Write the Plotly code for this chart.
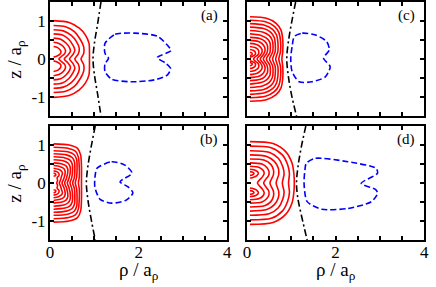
import plotly.graph_objects as go

# ---------------- data ----------------
# Red contours: upper half (rho, z) of each curve; the lower half mirrors it.
red_a = [
    [(0.08, 1.01), (0.43, 0.96), (0.66, 0.81), (0.80, 0.63), (0.88, 0.41), (0.89, 0.20), (0.89, 0.0)],
    [(0.08, 0.88), (0.35, 0.85), (0.55, 0.72), (0.68, 0.52), (0.76, 0.32), (0.76, 0.15), (0.70, 0.0)],
    [(0.08, 0.77), (0.30, 0.74), (0.48, 0.62), (0.60, 0.45), (0.66, 0.28), (0.64, 0.14), (0.56, 0.0)],
    [(0.08, 0.66), (0.28, 0.63), (0.42, 0.52), (0.52, 0.36), (0.56, 0.24), (0.52, 0.12), (0.44, 0.0)],
    [(0.08, 0.55), (0.24, 0.52), (0.36, 0.42), (0.44, 0.30), (0.46, 0.20), (0.40, 0.10), (0.32, 0.0)],
    [(0.08, 0.44), (0.20, 0.41), (0.30, 0.33), (0.35, 0.22), (0.33, 0.14), (0.25, 0.06), (0.20, 0.0)],
    [(0.08, 0.33), (0.17, 0.30), (0.24, 0.22), (0.24, 0.15), (0.16, 0.08), (0.08, 0.05)],
]
red_b = [
    [(0.08, 1.03), (0.43, 1.00), (0.62, 0.91), (0.69, 0.74), (0.71, 0.43), (0.71, 0.0)],
    [(0.08, 0.94), (0.42, 0.91), (0.58, 0.83), (0.64, 0.68), (0.66, 0.40), (0.66, 0.15), (0.64, 0.0)],
    [(0.08, 0.85), (0.40, 0.82), (0.54, 0.75), (0.60, 0.62), (0.61, 0.40), (0.60, 0.15), (0.57, 0.0)],
    [(0.08, 0.77), (0.37, 0.74), (0.50, 0.67), (0.55, 0.56), (0.56, 0.38), (0.55, 0.15), (0.51, 0.0)],
    [(0.08, 0.69), (0.34, 0.66), (0.45, 0.60), (0.50, 0.50), (0.51, 0.35), (0.49, 0.14), (0.45, 0.0)],
    [(0.08, 0.61), (0.31, 0.58), (0.41, 0.52), (0.45, 0.44), (0.46, 0.32), (0.43, 0.13), (0.39, 0.0)],
    [(0.08, 0.53), (0.27, 0.50), (0.36, 0.45), (0.40, 0.37), (0.40, 0.28), (0.37, 0.12), (0.33, 0.0)],
    [(0.08, 0.46), (0.23, 0.43), (0.31, 0.38), (0.34, 0.31), (0.34, 0.24), (0.31, 0.11), (0.27, 0.0)],
    [(0.08, 0.39), (0.19, 0.36), (0.26, 0.31), (0.28, 0.25), (0.26, 0.18), (0.24, 0.09), (0.21, 0.0)],
    [(0.08, 0.32), (0.15, 0.30), (0.20, 0.25), (0.20, 0.19), (0.16, 0.14), (0.17, 0.06), (0.15, 0.0)],
    [(0.08, 0.26), (0.12, 0.24), (0.13, 0.20), (0.08, 0.18)],
]
red_c = [
    [(0.07, 1.11), (0.44, 1.07), (0.66, 0.94), (0.77, 0.76), (0.81, 0.50), (0.81, 0.20), (0.79, 0.0)],
    [(0.07, 1.02), (0.42, 0.98), (0.62, 0.86), (0.72, 0.70), (0.76, 0.47), (0.76, 0.20), (0.72, 0.0)],
    [(0.07, 0.93), (0.40, 0.89), (0.58, 0.78), (0.67, 0.63), (0.70, 0.44), (0.70, 0.20), (0.65, 0.0)],
    [(0.07, 0.84), (0.38, 0.80), (0.54, 0.70), (0.62, 0.56), (0.64, 0.40), (0.64, 0.20), (0.58, 0.0)],
    [(0.07, 0.75), (0.35, 0.71), (0.50, 0.62), (0.57, 0.50), (0.59, 0.36), (0.58, 0.18), (0.51, 0.0)],
    [(0.07, 0.66), (0.32, 0.62), (0.45, 0.54), (0.52, 0.43), (0.53, 0.32), (0.52, 0.17), (0.44, 0.0)],
    [(0.07, 0.57), (0.29, 0.54), (0.40, 0.47), (0.46, 0.37), (0.47, 0.27), (0.45, 0.15), (0.37, 0.0)],
    [(0.07, 0.49), (0.26, 0.46), (0.35, 0.40), (0.40, 0.31), (0.41, 0.22), (0.38, 0.13), (0.30, 0.0)],
    [(0.07, 0.41), (0.22, 0.38), (0.30, 0.32), (0.34, 0.25), (0.34, 0.17), (0.30, 0.10), (0.23, 0.0)],
    [(0.07, 0.33), (0.18, 0.30), (0.25, 0.25), (0.27, 0.18), (0.25, 0.11), (0.18, 0.05), (0.15, 0.0)],
    [(0.07, 0.25), (0.14, 0.23), (0.19, 0.18), (0.19, 0.12), (0.13, 0.07), (0.07, 0.05)],
    [(0.07, 0.18), (0.11, 0.16), (0.12, 0.12), (0.07, 0.09)],
]
red_d = [
    [(0.07, 1.09), (0.59, 1.04), (0.88, 0.82), (1.02, 0.52), (1.06, 0.25), (1.07, 0.0)],
    [(0.07, 0.97), (0.55, 0.93), (0.80, 0.74), (0.92, 0.48), (0.96, 0.25), (0.94, 0.0)],
    [(0.07, 0.85), (0.50, 0.81), (0.71, 0.65), (0.81, 0.43), (0.84, 0.24), (0.80, 0.0)],
    [(0.07, 0.74), (0.45, 0.70), (0.62, 0.57), (0.71, 0.39), (0.72, 0.23), (0.66, 0.0)],
    [(0.07, 0.63), (0.40, 0.60), (0.54, 0.49), (0.60, 0.35), (0.60, 0.22), (0.52, 0.0)],
    [(0.07, 0.53), (0.34, 0.50), (0.45, 0.41), (0.50, 0.30), (0.49, 0.20), (0.38, 0.0)],
    [(0.07, 0.44), (0.28, 0.41), (0.37, 0.33), (0.39, 0.25), (0.35, 0.16), (0.24, 0.0)],
    [(0.07, 0.36), (0.20, 0.33), (0.26, 0.26), (0.22, 0.19), (0.12, 0.14), (0.07, 0.13)],
    [(0.07, 0.30), (0.14, 0.28), (0.16, 0.25), (0.12, 0.21), (0.07, 0.20)],
]

# Blue dashed closed contours (rho, z)
blue_a = [(1.24, 0.41), (1.47, 0.65), (1.91, 0.68), (2.42, 0.60), (2.68, 0.32), (2.73, 0.22),
          (2.42, 0.04), (2.61, -0.11), (2.72, -0.25), (2.65, -0.42), (2.35, -0.55), (1.83, -0.60),
          (1.39, -0.53), (1.24, -0.33), (1.24, -0.13), (1.32, 0.02), (1.24, 0.15), (1.24, 0.41)]
blue_b = [(1.06, 0.39), (1.39, 0.56), (1.69, 0.47), (1.85, 0.26), (1.58, 0.03), (1.76, -0.10),
          (1.87, -0.26), (1.72, -0.45), (1.39, -0.53), (1.13, -0.43), (1.01, -0.10), (1.02, 0.21),
          (1.06, 0.39)]
blue_c = [(1.07, 0.59), (1.25, 0.68), (1.55, 0.63), (1.80, 0.46), (1.86, 0.24), (1.73, 0.02),
          (1.88, -0.20), (1.77, -0.47), (1.47, -0.60), (1.18, -0.60), (1.02, -0.33), (0.99, 0.02),
          (1.02, 0.32), (1.07, 0.59)]
blue_d = [(1.34, 0.52), (1.55, 0.65), (2.28, 0.56), (2.91, 0.39), (2.95, 0.26), (2.58, -0.01),
          (2.90, -0.17), (2.95, -0.27), (2.81, -0.49), (2.28, -0.67), (1.69, -0.69), (1.36, -0.49),
          (1.29, -0.01), (1.31, 0.34), (1.34, 0.52)]

# Black dash-dot lines (rho, z)
black_a = [(1.15, 1.5), (1.07, 0.9), (1.0, 0.4), (0.97, 0.0), (1.0, -0.4), (1.07, -0.9), (1.15, -1.5)]
black_b = [(1.02, 1.5), (0.92, 0.9), (0.85, 0.4), (0.82, 0.0), (0.85, -0.4), (0.92, -0.9), (1.02, -1.5)]
black_c = [(1.10, 1.5), (1.0, 0.9), (0.93, 0.4), (0.90, 0.0), (0.93, -0.4), (1.0, -0.9), (1.12, -1.5)]
black_d = [(1.33, 1.5), (1.22, 0.9), (1.15, 0.4), (1.12, 0.0), (1.15, -0.4), (1.24, -0.9), (1.36, -1.5)]

panel_labels = ["(a)", "(b)", "(c)", "(d)"]
x_tickvals = [0, 0.5, 1, 1.5, 2, 2.5, 3, 3.5, 4]
x_ticktext = ["0", " ", " ", " ", "2", " ", " ", " ", "4"]
y_tickvals = [-1, -0.5, 0, 0.5, 1]
y_ticktext = ["-1", " ", "0", " ", "1"]
x_range = [0, 4]
y_range = [-1.5, 1.5]

# ---------------- figure ----------------
W, H = 436, 287
FONT = "Liberation Serif"

def px_x(a, b):
    return [a / W, b / W]

def px_y(top, bottom):
    return [(H - bottom) / H, (H - top) / H]

panels = [
    dict(red=red_a, blue=blue_a, black=black_a, label=panel_labels[0], xd=px_x(47, 228), yd=px_y(2, 116), left=True, bottom=False),
    dict(red=red_b, blue=blue_b, black=black_b, label=panel_labels[1], xd=px_x(47, 228), yd=px_y(126, 240), left=True, bottom=True),
    dict(red=red_c, blue=blue_c, black=black_c, label=panel_labels[2], xd=px_x(248, 429), yd=px_y(2, 116), left=False, bottom=False),
    dict(red=red_d, blue=blue_d, black=black_d, label=panel_labels[3], xd=px_x(248, 429), yd=px_y(126, 240), left=False, bottom=True),
]

fig = go.Figure()
layout = dict(width=W, height=H, margin=dict(l=0, r=0, t=0, b=0, pad=0),
              paper_bgcolor="white", plot_bgcolor="white", showlegend=False,
              font=dict(family=FONT, color="black", size=17))
annotations = []

for i, p in enumerate(panels):
    n = "" if i == 0 else str(i + 1)
    xa, ya = "x" + n, "y" + n
    for curve in p["red"]:
        up = list(curve)
        down = [(r, -z) for (r, z) in reversed(curve)]
        if up[-1][1] > 0.02:
            xs = [r for r, _ in up] + [None] + [r for r, _ in down]
            ys = [z for _, z in up] + [None] + [z for _, z in down]
        else:
            xs = [r for r, _ in up] + [r for r, _ in down[1:]]
            ys = [z for _, z in up] + [z for _, z in down[1:]]
        fig.add_trace(go.Scatter(x=xs, y=ys, mode="lines", xaxis=xa, yaxis=ya,
                                 line=dict(color="#ff0000", width=1.6, shape="spline", smoothing=0.8),
                                 hoverinfo="skip"))
    fig.add_trace(go.Scatter(x=[r for r, _ in p["black"]], y=[z for _, z in p["black"]],
                             mode="lines", xaxis=xa, yaxis=ya,
                             line=dict(color="black", width=1.6, dash="7px,3px,2px,3px", shape="spline"),
                             hoverinfo="skip"))
    fig.add_trace(go.Scatter(x=[r for r, _ in p["blue"]], y=[z for _, z in p["blue"]],
                             mode="lines", xaxis=xa, yaxis=ya,
                             line=dict(color="#0000ff", width=1.6, dash="6px,3px", shape="spline", smoothing=0.7),
                             hoverinfo="skip"))
    axis_common = dict(showline=True, linecolor="black", linewidth=2, mirror="ticks",
                       ticks="inside", ticklen=4, tickwidth=1.5, tickcolor="black",
                       showgrid=False, zeroline=False,
                       tickfont=dict(family=FONT, size=17, color="black"))
    layout["xaxis" + n] = dict(axis_common, domain=p["xd"], range=x_range, anchor=ya,
                               tickmode="array", tickvals=x_tickvals, ticktext=x_ticktext,
                               showticklabels=p["bottom"], ticklabelstandoff=-4)
    layout["yaxis" + n] = dict(axis_common, domain=p["yd"], range=y_range, anchor=xa,
                               tickmode="array", tickvals=y_tickvals, ticktext=y_ticktext,
                               showticklabels=p["left"], ticklabelstandoff=-1)
    annotations.append(dict(text=p["label"], xref=xa + " domain", yref=ya + " domain",
                            x=(221 - 47) / 181, y=(114 - 13) / 114, xanchor="right", yanchor="middle",
                            showarrow=False, font=dict(family=FONT, size=15, color="black")))
    if p["left"]:
        annotations.append(dict(text="z / a<sub>ρ</sub>", xref="paper", yref=ya + " domain",
                                x=12 / W, y=0.5, xanchor="center", yanchor="middle", textangle=-90,
                                showarrow=False, font=dict(family=FONT, size=19, color="black")))
    if p["bottom"]:
        annotations.append(dict(text="ρ / a<sub>ρ</sub>", xref=xa + " domain", yref="paper",
                                x=0.5, y=(H - 271) / H, xanchor="center", yanchor="middle",
                                showarrow=False, font=dict(family=FONT, size=19, color="black")))

layout["annotations"] = annotations
fig.update_layout(**layout)
fig.write_html("out.html", config={"displayModeBar": False},
               post_script="document.body.style.margin='0';document.body.style.overflow='hidden';")
